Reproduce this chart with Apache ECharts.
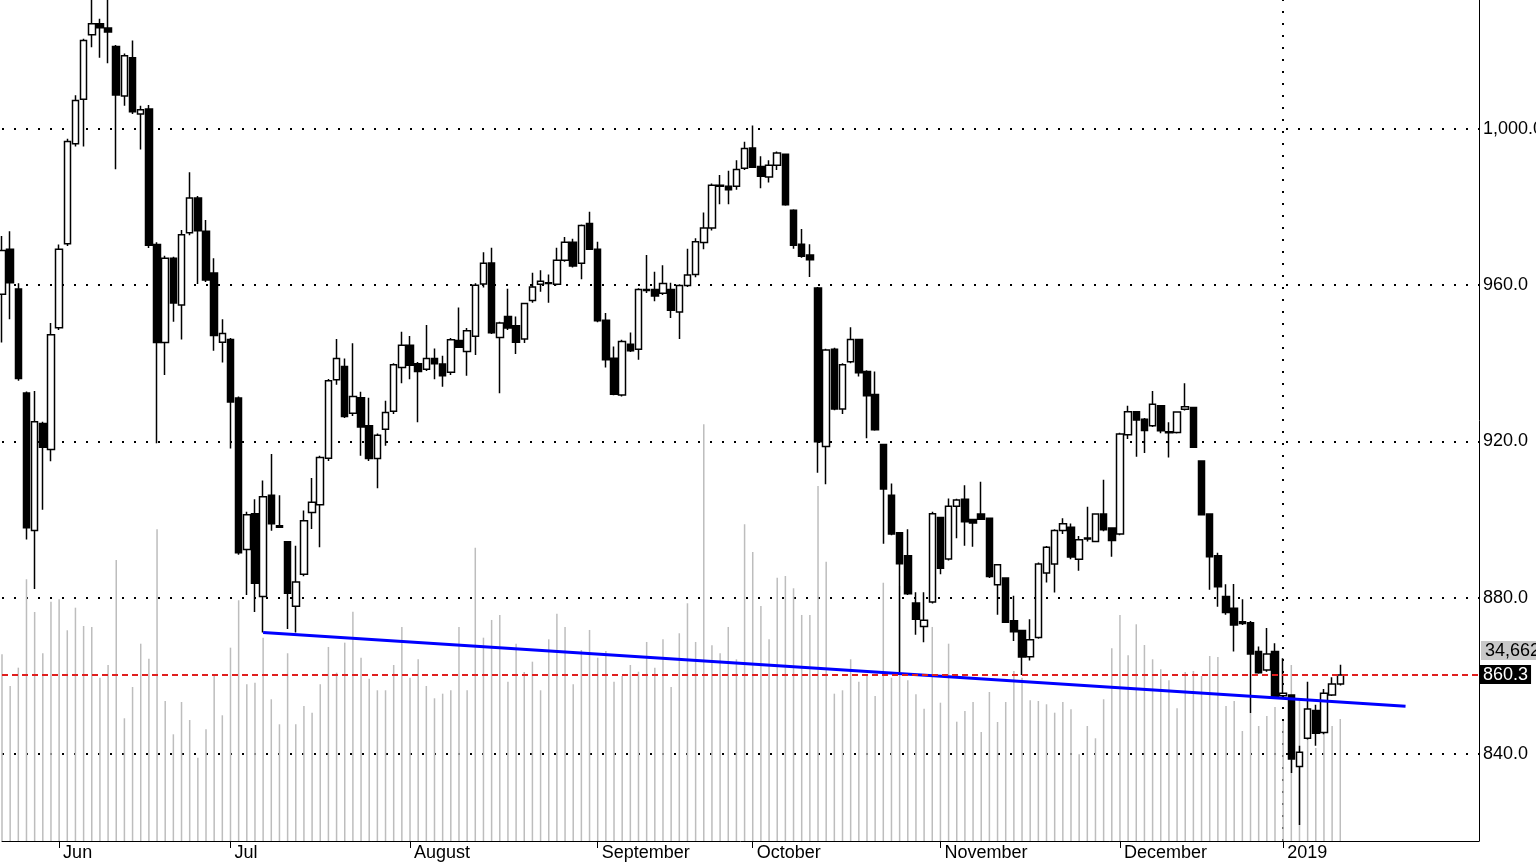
<!DOCTYPE html>
<html><head><meta charset="utf-8">
<script src="https://cdn.jsdelivr.net/npm/echarts@6/dist/echarts.min.js"></script>
<style>html,body{margin:0;padding:0;background:#fff;overflow:hidden}#chart{width:1536px;height:863px}</style>
</head><body><div id="chart"></div>
<script>
// trading days per month segment (first segment = end of May 2018, last = Jan 2019 incl. blank future days)
const monthSegments = [['May',7],['Jun',21],['Jul',22],['Aug',23],['Sep',19],['Oct',23],['Nov',22],['Dec',20],['Jan',25]];
const monthLabels = {Jun:'Jun',Jul:'Jul',Aug:'August',Sep:'September',Oct:'October',Nov:'November',Dec:'December',Jan:'2019'};

const opens = [957.7,969.2,959.0,932.4,897.2,924.6,917.9,949.1,970.6,996.2,
1007.6,1024.1,1026.9,1025.8,1021.1,1008.4,1018.2,1003.8,1005.1,970.4,
945.3,966.9,954.9,973.4,982.3,973.8,963.1,945.4,946.1,931.1,
892.3,901.5,880.3,906.2,898.4,894.3,877.8,886.0,901.8,903.8,
915.7,935.8,939.2,927.2,931.2,924.0,915.6,923.1,927.7,938.9,
944.6,939.9,938.5,941.2,939.8,937.7,945.8,943.0,946.9,960.3,
965.7,946.6,952.0,949.6,946.2,956.1,960.2,960.4,960.2,966.4,
971.0,965.6,975.8,969.2,951.0,941.3,931.9,944.9,943.6,958.9,
958.9,957.9,958.9,953.1,959.9,962.7,970.9,974.6,985.6,985.3,
985.3,989.9,995.1,990.4,987.7,990.7,993.5,979.2,970.5,967.7,
959.3,918.7,943.6,928.3,940.4,946.1,937.9,932.0,919.2,906.2,
896.6,890.7,878.6,872.6,878.9,900.5,889.9,903.4,905.2,900.0,
901.4,900.3,883.3,885.0,874.1,871.6,864.9,869.8,886.3,888.6,
897.2,898.0,889.8,895.0,894.4,901.4,897.8,896.3,921.7,927.6,
925.7,924.0,929.1,922.5,922.3,928.2,928.7,915.0,901.4,890.7,
880.3,877.3,873.8,873.6,866.2,861.5,866.2,854.9,855.1,836.8,
844.0,851.1,845.5,855.1,857.9];
const highs = [972.6,973.8,960.5,932.8,932.9,925.0,950.3,970.4,997.5,1008.6,
1023.1,1036,1028.2,1036,1021.5,1019.3,1022.6,1005.9,1006.1,971.0,
967.5,967.3,974.1,988.9,982.8,976.7,966.9,951.3,946.5,931.5,
902.0,905.2,910.0,916.8,906.2,894.5,893.3,902.3,910.6,916.3,
936.0,946.2,941.2,945.1,932.7,931.2,922.0,930.4,940.0,948.1,
947.0,940.3,949.8,943.8,941.9,946.5,954.3,949.0,960.5,968.4,
969.6,950.6,959.1,952.0,955.5,963.2,963.8,962.7,969.6,972.3,
971.9,975.5,978.8,971.1,952.9,944.3,946.0,947.9,959.2,967.7,
963.4,965.1,960.6,960.2,969.3,972.0,978.6,986.0,988.2,989.3,
992.0,996.7,1000.9,993.0,992.0,994.2,993.7,979.4,974.4,970.5,
959.5,943.7,944.0,940.0,949.2,946.3,938.2,937.9,919.4,909.2,
896.8,897.5,881.4,881.4,902.0,900.7,905.4,905.3,908.8,900.2,
909.7,900.5,888.6,885.2,880.5,871.8,874.5,889.0,893.2,897.5,
900.3,899.0,895.8,903.3,901.6,910.2,898.0,922.2,929.1,927.8,
926.0,932.9,929.3,924.9,927.7,934.9,928.9,915.2,901.6,891.5,
883.4,883.5,879.6,874.0,867.5,872.2,868.3,864.5,855.3,842.1,
858.5,852.6,856.6,859.6,862.8];
const lows = [945.3,951.3,935.5,894.9,882.2,902.5,914.9,948.5,970.0,995.5,
995.5,1020.9,1018.2,1016.8,989.7,1005.9,1003.8,994.7,969.5,919.5,
937.0,950.6,946.1,972.8,960.3,960.8,943.2,940.2,918.2,891.0,
880.7,876.3,871.1,897.1,897.8,872.0,871.1,885.5,897.6,892.9,
915.0,934.5,926.0,926.5,916.3,915.0,908.0,918.9,927.0,934.9,
935.9,924.9,938.0,935.9,934.0,937.0,944.0,936.8,942.1,959.4,
947.5,932.3,948.5,942.4,945.2,955.5,958.3,955.5,960.0,966.0,
964.5,961.5,969.0,950.5,938.9,931.8,931.5,942.9,940.9,958.0,
955.9,957.5,951.6,946.2,959.5,962.0,969.2,974.0,980.7,980.7,
984.4,989.5,990.0,984.8,986.3,989.5,980.3,969.3,967.0,962.1,
912.0,909.0,928.0,927.0,940.0,936.6,920.8,922.7,893.8,896.0,
860.8,880.7,870.5,868.6,878.5,886.0,889.5,895.2,893.3,893.0,
900.0,885.0,875.6,873.5,868.9,860.2,863.9,869.5,883.9,881.3,
896.3,889.8,886.9,894.4,894.2,897.0,890.5,896.0,920.6,916.1,
917.0,923.7,922.1,915.9,922.0,927.9,918.3,901.0,882.0,877.7,
875.6,866.2,873.0,850.4,860.5,861.0,854.5,854.5,835.1,821.8,
843.7,842.1,845.0,854.8,857.5];
const closes = [968.9,960.6,936.1,897.9,925.0,918.5,947.3,969.2,996.8,1007.3,
1022.6,1026.9,1025.9,1024.8,1008.7,1018.7,1004.4,1004.9,970.2,945.3,
966.9,955.4,972.9,982.3,973.9,961.3,947.1,947.6,930.1,891.5,
901.2,883.7,905.8,898.9,898.0,881.1,884.0,899.7,904.4,915.9,
935.5,941.2,926.4,931.5,923.7,915.6,921.6,927.4,939.6,944.6,
939.5,937.9,941.2,939.9,936.8,946.0,944.1,948.3,960.0,965.6,
947.8,950.3,949.0,945.4,955.3,959.5,961.0,960.6,966.4,971.0,
964.9,975.3,969.2,950.9,940.9,932.1,945.6,943.2,958.9,958.6,
957.2,960.4,953.6,959.9,962.6,971.1,974.6,985.6,985.3,984.4,
989.6,995.0,990.2,987.9,990.7,993.8,980.6,970.2,967.4,966.5,
919.9,943.4,928.3,939.6,946.1,937.6,931.7,923.0,907.8,896.3,
888.7,881.0,874.5,874.2,901.5,887.5,903.4,905.0,899.4,899.1,
900.1,885.4,888.4,873.7,871.3,864.8,869.2,888.6,892.9,897.2,
898.9,890.4,894.8,895.3,901.4,897.4,894.6,921.9,927.6,925.5,
922.8,929.5,922.7,922.2,927.5,928.9,918.5,901.2,890.5,882.8,
876.2,873.0,873.4,865.6,860.8,865.6,854.7,855.5,838.7,840.4,
851.5,845.3,855.5,857.9,860.2];
const volumes = [53040,44040,49240,74350,65060,53330,67990,68670,59860,66280,
61080,60800,46390,50000,79830,34860,43750,56050,51790,88550,
39770,30310,39490,34380,23670,31730,47360,35710,54920,68380,
44520,44970,57760,40260,33150,53330,33150,38350,36450,44520,
55120,47810,56340,65140,52080,46110,42810,42810,50000,60800,
46390,51620,44040,40540,41850,42810,60800,42810,83330,57760,
62790,64210,45260,56050,48010,50940,42810,57300,64580,60800,
44520,54260,59950,52080,53980,45260,46880,50000,48100,56540,
49240,57300,43750,59010,67530,56540,118390,55600,53330,60800,
51620,89970,82110,66760,57300,74800,75290,71790,64210,64210,
100860,79350,41850,42810,51620,45260,46880,41200,73380,46390,
72450,45660,41680,37590,60800,39290,56050,33890,36930,39490,
30970,42330,33810,39490,48300,46390,39970,39770,38840,36450,
39490,37420,24630,32670,29180,40260,54750,64210,52760,61560,
55680,51620,48780,45660,37700,48010,48300,46880,52560,52270,
38350,39770,31250,36080,32670,35510,38070,34090,50000,39770,
37500,26420,36080,32670,34662];

const priceTicks = [840, 880, 920, 960, 1000];
const lastClose = 860.3;
const lastVolumeText = '34,662';
const trendStart = [32, 871.1];
const trendEnd = [172, 852.2];
const yearStartIndex = 157;

const categories = [];
monthSegments.forEach(([m, n]) => { for (let d = 1; d <= n; d++) categories.push(m + '|' + d); });
const isMonthStart = (idx) => {
  const c = categories[idx];
  return !!c && c.endsWith('|1') && !c.startsWith('May');
};
const candleData = opens.map((o, i) => [o, closes[i], lows[i], highs[i]]);
const FONT = '"Liberation Sans", Arial, sans-serif';

const chart = echarts.init(document.getElementById('chart'), null, {renderer: 'canvas'});
chart.setOption({
  animation: false,
  backgroundColor: '#fff',
  grid: {left: 2, right: 57, top: 0, bottom: 22, containLabel: false, outerBoundsMode: 'none'},
  xAxis: {
    type: 'category', data: categories, boundaryGap: false,
    axisLine: {show: true, lineStyle: {color: '#000', width: 1}},
    axisTick: {show: true, interval: (i) => isMonthStart(i), length: 7, lineStyle: {color: '#000', width: 1}},
    axisLabel: {
      interval: (i) => isMonthStart(i),
      formatter: (v) => monthLabels[v.split('|')[0]] || '',
      align: 'left', color: '#000', fontSize: 18, fontFamily: FONT, margin: 3, padding: [0, 0, 0, 4]
    },
    splitLine: {show: false}
  },
  yAxis: [{
    type: 'value', position: 'right', min: 817.7, max: 1033.0,
    axisLine: {show: true, lineStyle: {color: '#000', width: 1}},
    axisTick: {show: false},
    splitLine: {show: false},
    axisLabel: {
      customValues: priceTicks,
      formatter: (v) => Number(v).toLocaleString('en-US', {minimumFractionDigits: 1, maximumFractionDigits: 1}),
      color: '#000', fontSize: 18, fontFamily: FONT, margin: 4
    }
  }, {
    type: 'value', min: 0, max: 238900, show: false
  }],
  graphic: [{
    type: 'text', left: 1481, top: 641, z: 100,
    style: {text: lastVolumeText, fill: '#000', backgroundColor: '#c8c8c8', padding: [1, 3, 0, 4], font: '18px ' + FONT}
  }],
  series: [
    {
      name: 'guides', type: 'line', data: [], z: 1, silent: true,
      markLine: {
        silent: true, symbol: ['none', 'none'], z: 1, animation: false,
        label: {show: false},
        lineStyle: {color: '#000', type: [2, 10], width: 2},
        data: priceTicks.map(v => ({yAxis: v})).concat([{xAxis: categories[yearStartIndex]}])
      }
    },
    {
      name: 'Volume', type: 'bar', xAxisIndex: 0, yAxisIndex: 1, data: volumes,
      barWidth: 1.5, itemStyle: {color: '#bdbdbd'}, z: 2, silent: true
    },
    {
      name: 'Price', type: 'candlestick', data: candleData, barWidth: 7, z: 3,
      itemStyle: {color: '#fff', color0: '#000', borderColor: '#000', borderColor0: '#000', borderWidth: 1.5},
      markLine: {
        silent: true, symbol: ['none', 'none'], animation: false,
        lineStyle: {color: '#e01e1e', type: [6, 4], width: 2},
        label: {show: true, position: 'end', formatter: String(lastClose), color: '#fff', backgroundColor: '#000',
                fontSize: 18, fontFamily: FONT, padding: [1, 3, 0, 3], distance: 1},
        data: [{yAxis: lastClose}]
      }
    },
    {
      name: 'Trend', type: 'line', data: [trendStart, trendEnd], symbol: 'none', z: 4, silent: true,
      lineStyle: {color: '#0000ff', width: 3}
    }
  ]
});
</script></body></html>
